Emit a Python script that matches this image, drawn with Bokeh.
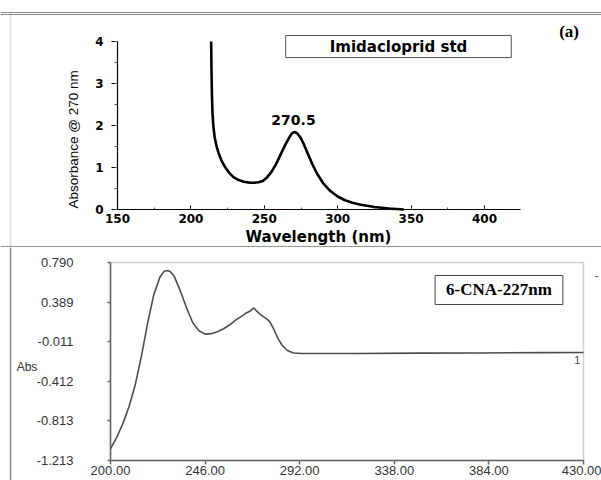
import math
from bokeh.plotting import figure
from bokeh.layouts import column
from bokeh.models import (Label, PolyAnnotation, BoxAnnotation, Span, FixedTicker,
                          PrintfTickFormatter, SingleIntervalTicker)
from bokeh.embed import file_html
from bokeh.resources import INLINE

# ---------------- data ----------------
# (a) Imidacloprid standard
wl_std = [213.8, 214.0, 214.3, 214.7, 215.3, 216.2, 217.5, 219.0, 221.0, 223.5, 226.0, 229.0,
          232.5, 236.0, 240.0, 243.0, 246.0, 249.0, 252.0, 255.0, 258.0, 261.0, 264.0, 266.5,
          268.5, 270.5, 272.5, 274.5, 277.0, 280.0, 283.0, 286.0, 290.0, 295.0, 300.0, 305.0,
          310.0, 315.0, 320.0, 325.0, 330.0, 335.0, 340.0, 345.0]
abs_std = [4.00, 3.40, 2.75, 2.30, 1.98, 1.72, 1.50, 1.33, 1.15, 1.00, 0.88, 0.77,
           0.70, 0.66, 0.64, 0.635, 0.65, 0.68, 0.77, 0.90, 1.08, 1.30, 1.52, 1.68,
           1.80, 1.85, 1.81, 1.72, 1.55, 1.30, 1.06, 0.85, 0.63, 0.44, 0.31, 0.22,
           0.16, 0.12, 0.09, 0.06, 0.04, 0.02, 0.01, 0.00]

# 6-CNA spectrum
wl_cna = [200, 203, 206, 209, 212, 215, 218, 221, 224, 226, 227.5, 229, 231, 234, 237, 240,
          243, 246, 249, 252, 255, 258, 261, 264, 266, 268, 269.7, 271, 272.5, 274.5, 276,
          277.5, 279.5, 281.5, 283.5, 286, 289, 293, 300, 320, 350, 380, 410, 430]
abs_cna = [-1.095, -0.98, -0.84, -0.67, -0.45, -0.16, 0.17, 0.46, 0.64, 0.70, 0.71, 0.70,
           0.65, 0.50, 0.33, 0.18, 0.10, 0.065, 0.07, 0.09, 0.12, 0.16, 0.21, 0.25, 0.28,
           0.30, 0.33, 0.30, 0.27, 0.24, 0.22, 0.19, 0.11, 0.02, -0.05, -0.10, -0.125, -0.13,
           -0.13, -0.13, -0.127, -0.125, -0.122, -0.12]

cna_x_ticks = [200, 246, 292, 338, 384, 430]
cna_y_ticks = [-1.213, -0.813, -0.412, -0.011, 0.389, 0.790]

BORDER = "#8a8a8a"

# ---------------- top panel (frame = whole canvas, axes at fixed locations) ----------------
p1 = figure(width=601, height=247, x_range=(70.30, 479.70), y_range=(-0.905, 4.976),
            output_backend="svg", toolbar_location=None,
            min_border_left=0, min_border_right=0, min_border_top=0, min_border_bottom=0)
p1.outline_line_color = None
p1.grid.visible = False

p1.line(wl_std, abs_std, line_color="black", line_width=2.6)

p1.xaxis.ticker = SingleIntervalTicker(interval=50, num_minor_ticks=2)
p1.yaxis.ticker = SingleIntervalTicker(interval=1, num_minor_ticks=2)
p1.xaxis.fixed_location = 0
p1.xaxis.bounds = (150, 424.5)
p1.yaxis.fixed_location = 150
p1.yaxis.bounds = (0, 4)
for ax in (p1.xaxis, p1.yaxis):
    ax.axis_line_color = "black"
    ax.axis_line_width = 1.2
    ax.major_tick_line_color = "black"
    ax.minor_tick_line_color = "#555555"
    ax.major_label_text_font = "DejaVu Sans"
    ax.major_label_text_font_style = "bold"
    ax.major_label_text_font_size = "12px"
    ax.major_label_text_color = "black"
p1.xaxis.major_tick_in = 4
p1.xaxis.major_tick_out = 0
p1.xaxis.minor_tick_in = 2
p1.xaxis.minor_tick_out = 0
p1.xaxis.major_label_standoff = 5
p1.yaxis.major_tick_in = 0
p1.yaxis.major_tick_out = 6
p1.yaxis.minor_tick_in = 0
p1.yaxis.minor_tick_out = 3
p1.yaxis.major_label_standoff = 8

p1.add_layout(Label(x=341.4, y=3.88, text="Imidacloprid std", text_font="DejaVu Sans",
                    text_font_style="bold", text_font_size="15px", text_color="black",
                    text_align="center", text_baseline="middle",
                    border_line_color="#555555", border_line_width=1,
                    background_fill_color="white",
                    padding=dict(left=44, right=44, top=2, bottom=2)))
p1.add_layout(Label(x=269.9, y=2.14, text="270.5", text_font="DejaVu Sans",
                    text_font_style="bold", text_font_size="14px", text_color="black",
                    text_align="center", text_baseline="middle"))
p1.add_layout(Label(x=457.6, y=4.24, text="(a)", text_font="Liberation Serif",
                    text_font_style="bold", text_font_size="17px", text_color="black",
                    text_align="center", text_baseline="middle"))
p1.add_layout(Label(x=286.9, y=-0.66, text="Wavelength (nm)", text_font="DejaVu Sans",
                    text_font_style="bold", text_font_size="15px", text_color="black",
                    text_align="center", text_baseline="middle"))
p1.add_layout(Label(x=119.8, y=1.667, text="Absorbance @ 270 nm", angle=math.pi / 2,
                    text_font="Liberation Sans", text_font_size="13.5px",
                    text_color="black", text_align="center", text_baseline="middle"))

# composite borders (top double line, left border, separator)
p1.add_layout(Span(location=4.690, dimension="width", line_color=BORDER, line_width=1))
p1.add_layout(Span(location=4.643, dimension="width", line_color=BORDER, line_width=1))
p1.add_layout(BoxAnnotation(left=77.1, right=77.1, top=4.69, bottom=-0.905, fill_alpha=0,
                            line_color=BORDER, line_width=1.5))
p1.add_layout(Span(location=-0.893, dimension="width", line_color="#333333", line_width=1))

# ---------------- bottom panel ----------------
p2 = figure(width=601, height=233, x_range=(146.51, 438.75), y_range=(-1.4154, 0.9417),
            output_backend="svg", toolbar_location=None,
            min_border_left=0, min_border_right=0, min_border_top=0, min_border_bottom=0)
p2.outline_line_color = None
p2.grid.visible = False

p2.line(wl_cna, abs_cna, line_color="#4d4d4d", line_width=1.6)

p2.xaxis.ticker = FixedTicker(ticks=cna_x_ticks)
p2.yaxis.ticker = FixedTicker(ticks=cna_y_ticks)
p2.xaxis.formatter = PrintfTickFormatter(format="%.2f")
p2.yaxis.formatter = PrintfTickFormatter(format="%.3f")
p2.xaxis.fixed_location = -1.213
p2.xaxis.bounds = (200, 430)
p2.yaxis.fixed_location = 200
p2.yaxis.bounds = (-1.213, 0.790)
for ax in (p2.xaxis, p2.yaxis):
    ax.axis_line_color = "#666666"
    ax.axis_line_width = 1.5
    ax.major_tick_line_color = "#666666"
    ax.major_tick_line_width = 1.5
    ax.major_tick_in = 0
    ax.minor_tick_line_color = None
    ax.major_label_text_font = "Liberation Sans"
    ax.major_label_text_font_size = "13px"
    ax.major_label_text_color = "#333333"
p2.xaxis.major_tick_out = 4
p2.xaxis.major_label_standoff = 2
p2.yaxis.major_tick_out = 3
p2.yaxis.major_label_standoff = 34

# plot box (closed rectangle along the axis limits)
p2.add_layout(PolyAnnotation(xs=[200, 430, 430, 200], ys=[0.790, 0.790, -1.213, -1.213],
                             fill_alpha=0, line_color="#666666", line_width=1.5))

p2.add_layout(Label(x=388.9, y=0.512, text="6-CNA-227nm", text_font="Liberation Serif",
                    text_font_style="bold", text_font_size="17px", text_color="black",
                    text_align="center", text_baseline="middle",
                    border_line_color="#444444", border_line_width=1,
                    background_fill_color="white",
                    padding=dict(left=11, right=11, top=5, bottom=5)))
p2.add_layout(Label(x=159.4, y=-0.272, text="Abs", text_font="Liberation Sans",
                    text_font_size="12px", text_color="#333333",
                    text_align="center", text_baseline="middle"))
p2.add_layout(Label(x=428.5, y=-0.20, text="1", text_font="Liberation Sans",
                    text_font_size="11px", text_color="#444444",
                    text_align="right", text_baseline="middle"))
p2.add_layout(Label(x=436.3, y=0.66, text="-", text_font="Liberation Sans",
                    text_font_size="12px", text_color="#555555",
                    text_align="center", text_baseline="middle"))
p2.add_layout(Span(location=151.4, dimension="height", line_color=BORDER, line_width=1.5))

layout = column(p1, p2, spacing=0)
open("out.html", "w").write(file_html(layout, INLINE))
